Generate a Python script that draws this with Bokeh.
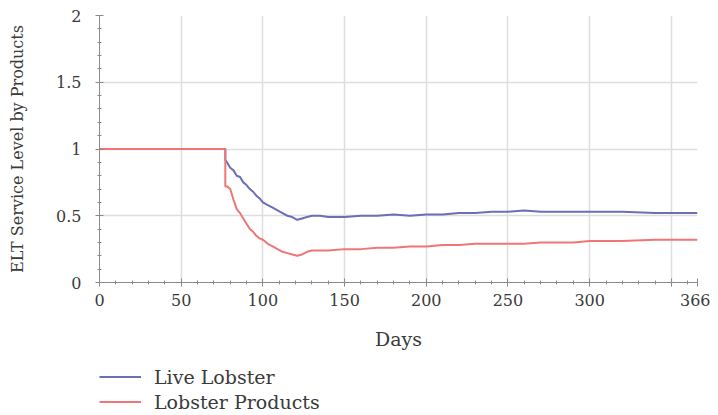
from bokeh.plotting import figure
from bokeh.layouts import column
from bokeh.models import FixedTicker, Legend, LegendItem, ColumnDataSource
from bokeh.embed import file_html
from bokeh.resources import INLINE

days = [0, 77, 77, 78, 80, 82, 84, 86, 88, 90, 92, 94, 96, 98, 100, 103, 106, 109, 112, 115,
        118, 121, 124, 127, 130, 135, 140, 150, 160, 170, 180, 190, 200, 210, 220, 230, 240,
        250, 260, 270, 280, 290, 300, 320, 340, 366]
live_lobster = [1, 1, 0.92, 0.90, 0.86, 0.84, 0.80, 0.79, 0.75, 0.73, 0.70, 0.68, 0.65, 0.63,
                0.60, 0.58, 0.56, 0.54, 0.52, 0.50, 0.49, 0.47, 0.48, 0.49, 0.50, 0.50, 0.49,
                0.49, 0.50, 0.50, 0.51, 0.50, 0.51, 0.51, 0.52, 0.52, 0.53, 0.53, 0.54, 0.53,
                0.53, 0.53, 0.53, 0.53, 0.52, 0.52]
lobster_products = [1, 1, 0.72, 0.72, 0.70, 0.62, 0.55, 0.52, 0.48, 0.44, 0.40, 0.38, 0.35,
                    0.33, 0.32, 0.29, 0.27, 0.25, 0.23, 0.22, 0.21, 0.20, 0.21, 0.23, 0.24,
                    0.24, 0.24, 0.25, 0.25, 0.26, 0.26, 0.27, 0.27, 0.28, 0.28, 0.29, 0.29,
                    0.29, 0.29, 0.30, 0.30, 0.30, 0.31, 0.31, 0.32, 0.32]
series_names = ["Live Lobster", "Lobster Products"]
x_ticks = [0, 50, 100, 150, 200, 250, 300, 350, 366]
x_labels = {350: ""}
y_ticks = [0, 0.5, 1, 1.5, 2]
y_labels = {0: "0", 0.5: "0.5", 1: "1", 1.5: "1.5", 2: "2"}

FONT = "DejaVu Serif"
TXT = "#3a3a3a"
BLUE = "#6b6fb4"
RED = "#f07676"

p = figure(width=710, height=355, x_range=(0, 366), y_range=(0, 2),
           output_backend="svg", toolbar_location=None,
           min_border_left=99, min_border_right=13, min_border_top=15, min_border_bottom=73)
p.outline_line_color = None

src = ColumnDataSource(dict(d=days, live=live_lobster, prod=lobster_products))
p.line("d", "live", source=src, line_color=BLUE, line_width=2)
p.line("d", "prod", source=src, line_color=RED, line_width=2)

p.xaxis.ticker = FixedTicker(ticks=x_ticks, minor_ticks=list(range(0, 367, 10)))
p.xaxis.major_label_overrides = x_labels
p.yaxis.ticker = FixedTicker(ticks=y_ticks, minor_ticks=[i / 10 for i in range(21)])
p.yaxis.major_label_overrides = y_labels

for ax in (p.xaxis, p.yaxis):
    ax.axis_line_color = "#8a8a8a"
    ax.major_tick_line_color = "#8a8a8a"
    ax.minor_tick_line_color = "#8a8a8a"
    ax.major_tick_in = 4
    ax.major_tick_out = 4
    ax.minor_tick_in = 2
    ax.minor_tick_out = 2
    ax.major_label_text_font = FONT
    ax.major_label_text_font_size = "16px"
    ax.major_label_text_color = TXT
    ax.axis_label_text_font = FONT
    ax.axis_label_text_font_style = "normal"
    ax.axis_label_text_color = TXT

p.xaxis.axis_label = "Days"
p.xaxis.axis_label_text_font_size = "19px"
p.xaxis.axis_label_standoff = 19
p.xaxis.major_label_standoff = 7
p.yaxis.axis_label = "ELT Service Level by Products"
p.yaxis.axis_label_text_font_size = "16px"
p.yaxis.axis_label_standoff = 26
p.yaxis.major_label_standoff = 14

p.xgrid.ticker = FixedTicker(ticks=x_ticks)
p.ygrid.ticker = FixedTicker(ticks=y_ticks)
p.grid.grid_line_color = "#dedede"
p.grid.grid_line_width = 1.5

# legend strip below the chart (series drawn off-view so only the legend shows)
pl = figure(width=710, height=60, x_range=(0, 366), y_range=(10, 11),
            output_backend="svg", toolbar_location=None,
            x_axis_type=None, y_axis_type=None,
            min_border_left=0, min_border_right=0, min_border_top=0, min_border_bottom=0)
pl.outline_line_color = None
pl.grid.visible = False
l1 = pl.line("d", "live", source=src, line_color=BLUE, line_width=2)
l2 = pl.line("d", "prod", source=src, line_color=RED, line_width=2)

legend = Legend(items=[LegendItem(label=series_names[0], renderers=[l1]),
                       LegendItem(label=series_names[1], renderers=[l2])],
                location=(0, 1), padding=0, margin=0, spacing=0,
                glyph_width=42, glyph_height=25, label_height=25, label_standoff=13,
                label_text_font=FONT, label_text_font_size="19px", label_text_color=TXT,
                border_line_alpha=0, background_fill_alpha=0)
pl.add_layout(legend, "center")

layout = column(p, pl, spacing=0)
open("out.html", "w").write(file_html(layout, INLINE))
